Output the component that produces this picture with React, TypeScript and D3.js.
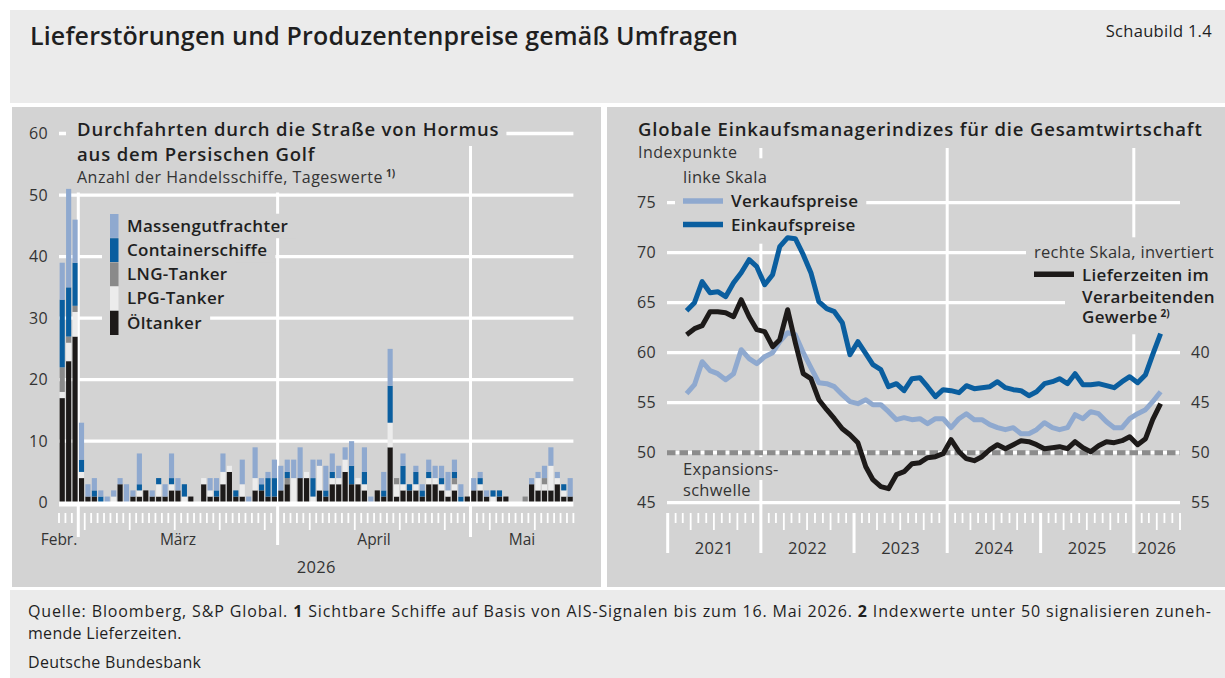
import { useLayoutEffect, useRef, useState } from "react";
import * as d3 from "d3";

const FONT = "'Open Sans', 'Noto Sans', sans-serif";
const PANEL = "#d3d3d3";
const BAND = "#ebebeb";
const INK = "#1f1f1f";
const GRID = "#ffffff";

// Durchfahrten durch die Straße von Hormus, Tageswerte 26. Feb. bis 16. Mai 2026
const shipDays = d3.timeDay.range(new Date(2026, 1, 26), new Date(2026, 4, 17));
const oilTankers = [
  17, 23, 27, 4, 1, 1, 0, 0, 0, 3, 0, 1, 1, 2, 1, 1, 1, 2, 2, 0,
  1, 0, 3, 1, 1, 3, 5, 1, 1, 0, 2, 2, 1, 1, 2, 3, 0, 4, 4, 0,
  2, 1, 3, 3, 5, 3, 3, 2, 0, 2, 1, 9, 1, 2, 2, 2, 1, 3, 3, 2,
  1, 2, 0, 1, 2, 2, 1, 0, 1, 1, 0, 0, 0, 3, 2, 2, 2, 3, 1, 1,
];
const lpgTankers = [
  1, 3, 4, 1, 0, 0, 0, 0, 1, 0, 0, 0, 1, 0, 0, 2, 0, 1, 0, 1,
  0, 0, 1, 1, 0, 2, 1, 0, 2, 0, 2, 0, 0, 0, 0, 0, 4, 0, 1, 1,
  4, 0, 1, 1, 2, 0, 1, 1, 0, 0, 0, 4, 2, 1, 0, 1, 0, 1, 1, 1,
  1, 1, 0, 0, 0, 1, 0, 1, 0, 0, 0, 0, 0, 0, 2, 1, 4, 1, 1, 0,
];
const lngTankers = [
  4, 1, 1, 0, 0, 0, 0, 0, 0, 0, 0, 0, 0, 0, 0, 0, 0, 0, 0, 0,
  0, 0, 0, 0, 0, 0, 0, 0, 0, 0, 0, 0, 0, 0, 0, 1, 0, 0, 0, 0,
  0, 0, 0, 0, 0, 0, 0, 0, 0, 0, 0, 0, 1, 0, 0, 0, 0, 0, 0, 0,
  0, 1, 0, 0, 0, 0, 0, 0, 0, 0, 0, 0, 1, 0, 0, 1, 0, 0, 0, 0,
];
const containerShips = [
  11, 8, 7, 2, 0, 1, 1, 0, 0, 0, 0, 0, 1, 0, 0, 1, 0, 1, 0, 2,
  0, 0, 0, 0, 1, 0, 0, 1, 0, 0, 0, 1, 3, 3, 0, 1, 0, 0, 0, 3,
  0, 1, 1, 0, 0, 3, 0, 2, 0, 0, 1, 6, 0, 3, 1, 2, 1, 1, 0, 1,
  0, 1, 1, 0, 0, 1, 0, 1, 1, 0, 0, 0, 0, 0, 0, 0, 0, 0, 1, 0,
];
const bulkCarriers = [
  6, 16, 7, 6, 2, 2, 1, 1, 1, 1, 3, 1, 5, 0, 1, 0, 2, 4, 2, 0,
  0, 0, 0, 2, 2, 3, 0, 0, 4, 1, 5, 1, 1, 3, 4, 2, 3, 5, 0, 3,
  1, 4, 3, 2, 2, 4, 0, 4, 1, 0, 3, 6, 0, 2, 0, 1, 1, 2, 2, 2,
  3, 2, 2, 0, 2, 1, 1, 0, 0, 0, 0, 0, 0, 1, 1, 2, 3, 1, 0, 3,
];
const shipMonthLabels = ["Febr.", "März", "April", "Mai"];
const shipTicks = [0, 10, 20, 30, 40, 50, 60];

// Globale Einkaufsmanagerindizes, Monatswerte März 2021 bis April 2026
const pmiMonths = d3.timeMonth.range(new Date(2021, 2, 1), new Date(2026, 4, 1));
const sellingPrices = [
  55.9, 56.8, 59.1, 58.2, 57.9, 57.3, 57.9, 60.3, 59.4, 58.9,
  59.6, 60.0, 61.1, 62.0, 61.8, 60.0, 58.5, 57.0, 56.9, 56.6, 55.8, 55.1,
  54.9, 55.3, 54.8, 54.8, 54.1, 53.3, 53.5, 53.3, 53.4, 52.9, 53.4, 53.4,
  52.5, 53.4, 53.9, 53.3, 53.3, 52.8, 52.5, 52.3, 52.5, 51.9, 51.9, 52.3,
  53.0, 52.5, 52.3, 52.5, 53.8, 53.4, 54.1, 53.9, 53.1, 52.5, 52.5, 53.4,
  53.9, 54.3, 55.1, 56.1,
];
const purchasePrices = [
  64.2, 65.0, 67.1, 66.0, 66.1, 65.6, 67.0, 68.0, 69.3, 68.6,
  66.8, 67.8, 70.6, 71.5, 71.4, 69.8, 68.0, 65.1, 64.4, 64.1, 63.0, 59.8,
  61.1, 59.9, 58.8, 58.3, 56.6, 56.9, 56.2, 57.4, 57.5, 56.6, 55.6, 56.3,
  56.2, 56.0, 56.7, 56.4, 56.5, 56.6, 57.1, 56.5, 56.3, 56.2, 55.7, 56.1,
  56.9, 57.1, 57.4, 56.9, 57.9, 56.8, 56.8, 56.9, 56.7, 56.5, 57.1, 57.6,
  57.0, 57.8, 59.8, 61.9,
];
// rechte Skala, invertiert
const deliveryTimes = [
  38.2, 37.6, 37.3, 35.9, 35.9, 36.0, 36.4, 34.7, 36.4, 37.7,
  37.9, 39.4, 38.7, 35.7, 39.0, 42.1, 42.6, 44.7, 45.7, 46.6, 47.6, 48.2,
  49.0, 51.4, 52.7, 53.4, 53.6, 52.2, 51.9, 51.1, 51.0, 50.5, 50.4, 50.1,
  48.7, 49.9, 50.6, 50.8, 50.4, 49.7, 49.2, 49.6, 49.2, 48.8, 48.9, 49.2,
  49.6, 49.5, 49.4, 49.6, 48.9, 49.5, 49.9, 49.3, 48.9, 49.0, 48.8, 48.4,
  49.2, 48.6, 46.7, 45.1,
];
const leftTicks = [45, 50, 55, 60, 65, 70, 75];
const rightTicks = [40, 45, 50, 55];
const yearLabels = ["2021", "2022", "2023", "2024", "2025", "2026"];

const shipSeries = [
  { key: "oil", label: "Öltanker", color: "#1d1a19", values: oilTankers },
  { key: "lpg", label: "LPG-Tanker", color: "#ececec", values: lpgTankers },
  { key: "lng", label: "LNG-Tanker", color: "#8a8a8a", values: lngTankers },
  { key: "cont", label: "Containerschiffe", color: "#0a5e9f", values: containerShips },
  { key: "bulk", label: "Massengutfrachter", color: "#8fa9cf", values: bulkCarriers },
];

// text styles (Frutiger-like widths with Open Sans)
const titleStyle = { fontSize: 18.5, fontWeight: 600, letterSpacing: 0.85, fill: INK };
const legendStyle = { fontSize: 17, fontWeight: 600, letterSpacing: 0.3, fill: INK };
const noteStyle = { fontSize: 16.5, fontWeight: 400, letterSpacing: 0.3, fill: "#333" };
const subStyle = { fontSize: 16, fontWeight: 400, letterSpacing: 0.5, fill: "#333" };
const tickStyle = { fontSize: 16, letterSpacing: 0.3, fill: "#333" };
const supStyle = { fontSize: 10, fontWeight: 700, letterSpacing: 0 };

type Box = { x0: number; y0: number; x1: number; y1: number };

// draws panel-coloured boxes behind text so that grid lines stop at the labels
function Masked({ children, pad = [8, 8, 2, 2] }: { children: any; pad?: number[] }) {
  const ref = useRef<SVGGElement | null>(null);
  const [boxes, setBoxes] = useState<Box[]>([]);
  useLayoutEffect(() => {
    if (!ref.current) return;
    const parts = ref.current.querySelectorAll("[data-mask]");
    const groups = new Map<string, Box>();
    const add = (k: string, b: DOMRect) => {
      const g = groups.get(k);
      if (!g) groups.set(k, { x0: b.x, y0: b.y, x1: b.x + b.width, y1: b.y + b.height });
      else {
        g.x0 = Math.min(g.x0, b.x);
        g.y0 = Math.min(g.y0, b.y);
        g.x1 = Math.max(g.x1, b.x + b.width);
        g.y1 = Math.max(g.y1, b.y + b.height);
      }
    };
    if (parts.length) parts.forEach((el) => add(el.getAttribute("data-mask") || "", (el as SVGGraphicsElement).getBBox()));
    else add("all", ref.current.getBBox());
    setBoxes([...groups.values()]);
  }, []);
  const [l, r, t, b] = pad;
  return (
    <g>
      {boxes.map((bx, i) => (
        <rect key={i} x={bx.x0 - l} y={bx.y0 - t} width={bx.x1 - bx.x0 + l + r} height={bx.y1 - bx.y0 + t + b} fill={PANEL} />
      ))}
      <g ref={ref}>{children}</g>
    </g>
  );
}

function ShipChart() {
  const end = new Date(2026, 4, 17);
  const x = d3.scaleBand<Date>().domain(shipDays).range([59, 573.4]).paddingInner(0.2).paddingOuter(0.1);
  const xDay = d3.scaleTime().domain([shipDays[0], end]).range([59, 573.4]);
  const y = d3.scaleLinear().domain([0, 60]).range([502.7, 133.5]);

  const rows = shipDays.map((d, i) => {
    const r: any = { date: d };
    shipSeries.forEach((s) => (r[s.key] = s.values[i]));
    return r;
  });
  const stacked = d3.stack<any>().keys(shipSeries.map((s) => s.key))(rows);

  const boundaries = d3.timeDay.range(shipDays[0], d3.timeDay.offset(end, 1));
  const monthStarts = d3.timeMonth.range(new Date(2026, 2, 1), end);
  const monthSpans = [new Date(2026, 1, 1), ...monthStarts].map((m) => {
    const a = m < shipDays[0] ? shipDays[0] : m;
    const nx = d3.timeMonth.offset(m, 1);
    const b = nx > end ? end : nx;
    return { a, b };
  });

  const legend = shipSeries.slice().reverse();
  const rowH = 24.2;

  return (
    <g>
      {shipTicks.slice(1).map((t) => (
        <line key={t} x1={59} x2={573.4} y1={y(t)} y2={y(t)} stroke={GRID} strokeWidth={3.3} />
      ))}
      {monthStarts.map((m) => (
        <line key={+m} x1={xDay(m)} x2={xDay(m)} y1={145} y2={m.getMonth() === 3 ? 545 : 537} stroke={GRID} strokeWidth={3} />
      ))}
      {boundaries
        .filter((d) => d.getDate() !== 1)
        .map((d) => (
          <line key={+d} x1={xDay(d)} x2={xDay(d)} y1={513} y2={d.getDay() === 1 ? 530 : 523} stroke={GRID} strokeWidth={1.8} />
        ))}

      <Masked pad={[11, 7, 2, 5]}>
        <text x={77} y={136}>
          <tspan data-mask="a" {...titleStyle}>Durchfahrten durch die Straße von Hormus</tspan>
          <tspan data-mask="b" x={77} y={160.5} {...titleStyle}>aus dem Persischen Golf</tspan>
          <tspan data-mask="b" x={77} y={182.5} {...subStyle}>Anzahl der Handelsschiffe, Tageswerte</tspan>
          <tspan dx={3} dy={-6} {...supStyle} fill="#333">1)</tspan>
        </text>
      </Masked>

      {legend.map((s, i) => (
        <Masked key={s.key} pad={[8, 8, 0, 0]}>
          <rect x={110} y={214 + i * rowH} width={8.5} height={rowH} fill={s.color} />
          <text x={127} y={231.7 + i * rowH} {...legendStyle}>
            {s.label}
          </text>
        </Masked>
      ))}

      {stacked.map((layer, li) => (
        <g key={layer.key} fill={shipSeries[li].color}>
          {layer.map((d, i) =>
            d[1] > d[0] ? (
              <rect key={i} x={x(shipDays[i])} width={x.bandwidth()} y={y(d[1])} height={y(d[0]) - y(d[1])} />
            ) : null
          )}
        </g>
      ))}
      <line x1={59} x2={573.4} y1={y(0) + 1.3} y2={y(0) + 1.3} stroke={GRID} strokeWidth={5} />

      {shipTicks.map((t) => (
        <text key={t} x={48} y={y(t) + 5.7} textAnchor="end" {...tickStyle}>
          {t}
        </text>
      ))}
      {monthSpans.map((s, i) => (
        <text
          key={i}
          x={i === 0 ? xDay(s.b) - 1 : (xDay(s.a) + xDay(s.b)) / 2}
          y={545}
          textAnchor={i === 0 ? "end" : "middle"}
          {...tickStyle}
          fontSize={15.5}
          letterSpacing={0}
        >
          {shipMonthLabels[i]}
        </text>
      ))}
      <text x={(59 + 573.4) / 2} y={573} textAnchor="middle" {...tickStyle} fontSize={16.5}>
        2026
      </text>
    </g>
  );
}

function PmiChart() {
  const start = new Date(2021, 0, 1);
  const end = new Date(2026, 6, 1);
  const x = d3.scaleTime().domain([start, end]).range([667.7, 1180]);
  const yL = d3.scaleLinear().domain([45, 75]).range([502.7, 202.7]);
  const yR = d3.scaleLinear().domain([35, 55]).range([302.7, 502.7]);
  const mid = (d: Date) => x(new Date(d.getFullYear(), d.getMonth(), 16));

  const lineL = d3.line<number>().x((_, i) => mid(pmiMonths[i])).y((v) => yL(v));
  const lineR = d3.line<number>().x((_, i) => mid(pmiMonths[i])).y((v) => yR(v));

  const months = d3.timeMonth.range(start, d3.timeMonth.offset(end, 1));
  const years = d3.timeYear.range(start, end);
  const gridYears = years.filter((d) => d.getFullYear() % 2 === 0);

  return (
    <g>
      {leftTicks.map((t) => (
        <line key={t} x1={667} x2={1180} y1={yL(t)} y2={yL(t)} stroke={GRID} strokeWidth={3.3} />
      ))}
      {gridYears.map((d) => (
        <line key={+d} x1={x(d)} x2={x(d)} y1={148} y2={553} stroke={GRID} strokeWidth={3} />
      ))}
      {months
        .filter((d) => !(d.getMonth() === 0 && d.getFullYear() % 2 === 0))
        .map((d) => {
          const y2 = d.getMonth() === 0 ? 553 : d.getMonth() % 3 === 0 ? 530 : 523;
          return <line key={+d} x1={x(d)} x2={x(d)} y1={513} y2={y2} stroke={GRID} strokeWidth={d.getMonth() === 0 ? 3 : 1.8} />;
        })}

      <Masked pad={[8, 8, 7, 8]}>
        <text x={683} y={183.3} {...noteStyle}>linke Skala</text>
        <line x1={683} x2={723} y1={201} y2={201} stroke="#8fa9cf" strokeWidth={5.5} />
        <text x={731} y={207.3} {...legendStyle}>Verkaufspreise</text>
        <line x1={683} x2={723} y1={224.5} y2={224.5} stroke="#0a5e9f" strokeWidth={5.5} />
        <text x={731} y={230.7} {...legendStyle}>Einkaufspreise</text>
      </Masked>
      <Masked pad={[8, 8, 3, 0]}>
        <text x={1034} y={258.3} {...noteStyle}>rechte Skala, invertiert</text>
      </Masked>
      <Masked pad={[8, 8, 0, 0]}>
        <line x1={1034} x2={1074} y1={274.3} y2={274.3} stroke="#1d1a19" strokeWidth={5.5} />
        <text x={1082} y={281} {...legendStyle}>Lieferzeiten im</text>
      </Masked>
      <Masked pad={[17, 8, 0, 6]}>
        <text x={1082} y={302.7}>
          <tspan {...legendStyle}>Verarbeitenden</tspan>
          <tspan x={1082} y={323.3} {...legendStyle}>Gewerbe</tspan>
          <tspan dx={3} dy={-6} {...supStyle} fill={INK}>2)</tspan>
        </text>
      </Masked>
      <Masked pad={[8, 8, 0, 0]}>
        <text x={683} y={475}>
          <tspan data-mask="a" {...noteStyle}>Expansions-</tspan>
          <tspan data-mask="b" x={683} y={496} {...noteStyle}>schwelle</tspan>
        </text>
      </Masked>

      <line x1={667} x2={1180} y1={yL(50)} y2={yL(50)} stroke="#8c8c8c" strokeWidth={5} strokeDasharray="8.5 4" />

      <path d={lineL(sellingPrices) ?? ""} fill="none" stroke="#8fa9cf" strokeWidth={5} strokeLinejoin="round" />
      <path d={lineL(purchasePrices) ?? ""} fill="none" stroke="#0a5e9f" strokeWidth={5} strokeLinejoin="round" />
      <path d={lineR(deliveryTimes) ?? ""} fill="none" stroke="#1d1a19" strokeWidth={5} strokeLinejoin="round" />

      {leftTicks.map((t) => (
        <text key={t} x={656} y={yL(t) + 5.7} textAnchor="end" {...tickStyle}>
          {t}
        </text>
      ))}
      {rightTicks.map((t) => (
        <text key={t} x={1191} y={yR(t) + 5.7} {...tickStyle}>
          {t}
        </text>
      ))}
      {years.map((d, i) => {
        const b = d3.timeYear.offset(d, 1) > end ? end : d3.timeYear.offset(d, 1);
        return (
          <text key={i} x={(x(d) + x(b)) / 2} y={554} textAnchor="middle" {...tickStyle} fontSize={16.5}>
            {yearLabels[i]}
          </text>
        );
      })}

      <text x={638} y={136}>
        <tspan {...titleStyle}>Globale Einkaufsmanagerindizes für die Gesamtwirtschaft</tspan>
        <tspan x={638} y={158} {...subStyle}>Indexpunkte</tspan>
      </text>
    </g>
  );
}

export default function App() {
  return (
    <svg
      width={1225}
      height={678}
      style={{ position: "absolute", left: 0, top: 0, background: "#fff" }}
      fontFamily={FONT}
    >
      <rect x={10} y={10} width={1215} height={93} fill={BAND} />
      <text x={30} y={45} fontSize={25} fontWeight={600} letterSpacing={0.15} fill={INK}>
        Lieferstörungen und Produzentenpreise gemäß Umfragen
      </text>
      <text x={1212} y={37} textAnchor="end" fontSize={16.5} letterSpacing={0.3} fill={INK}>
        Schaubild 1.4
      </text>

      <rect x={12} y={107} width={589} height={480} fill={PANEL} />
      <rect x={607} y={107} width={618} height={480} fill={PANEL} />
      <ShipChart />
      <PmiChart />

      <rect x={10} y={590} width={1215} height={88} fill={BAND} />
      <text x={28} y={617} fontSize={16} fill={INK} textLength={1183} lengthAdjust="spacing">
        Quelle: Bloomberg, S&amp;P Global. <tspan fontWeight={700}>1</tspan> Sichtbare Schiffe auf Basis von
        AIS-Signalen bis zum 16. Mai 2026. <tspan fontWeight={700}>2</tspan> Indexwerte unter 50 signalisieren zuneh-
      </text>
      <text x={28} y={639} fontSize={16} letterSpacing={0.3} fill={INK}>
        mende Lieferzeiten.
      </text>
      <text x={28} y={668} fontSize={16} letterSpacing={0.3} fill={INK}>
        Deutsche Bundesbank
      </text>
    </svg>
  );
}
